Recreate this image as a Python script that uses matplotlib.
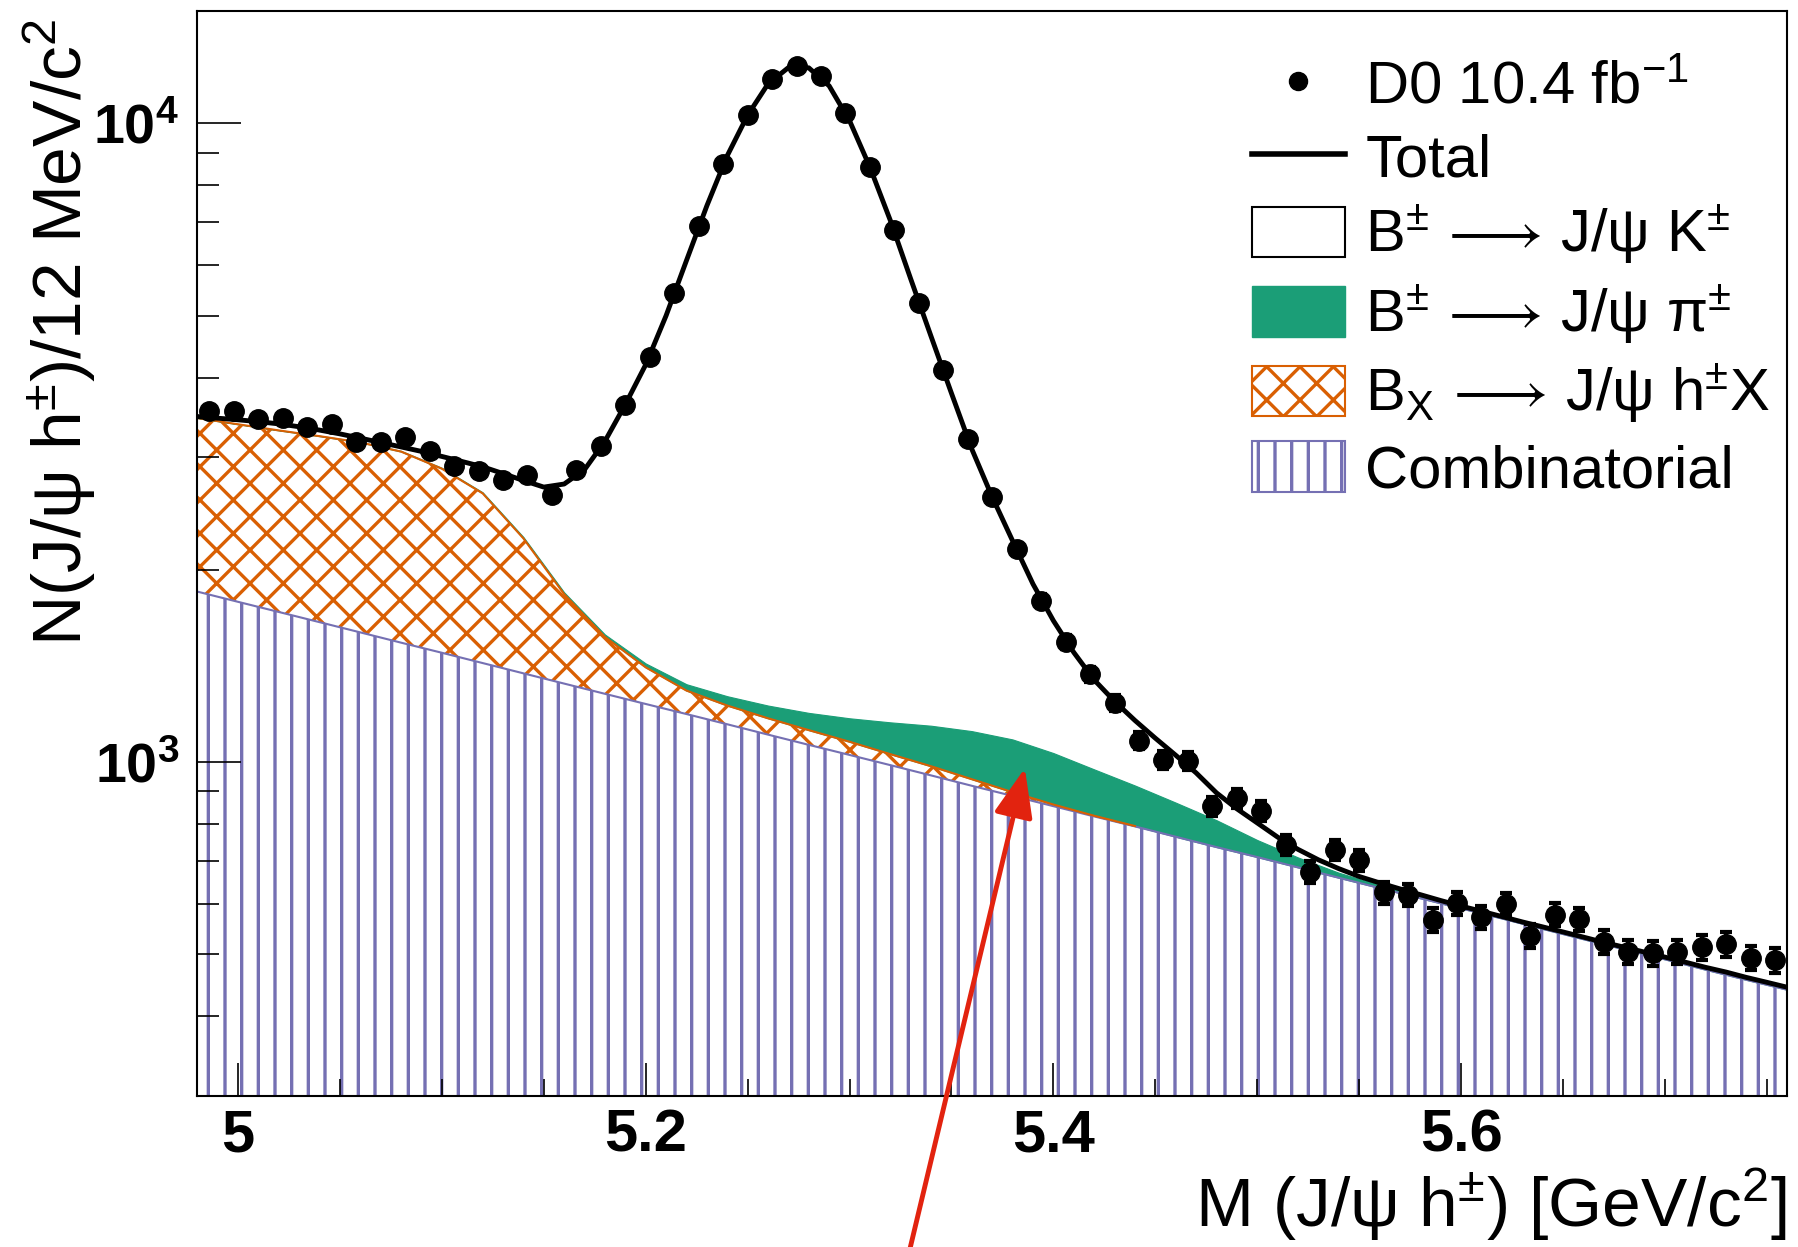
import numpy as np
import matplotlib
matplotlib.use('Agg')
import matplotlib.pyplot as plt
from matplotlib.lines import Line2D
from matplotlib.patches import Patch
from matplotlib.ticker import MultipleLocator, LogLocator, NullFormatter

plt.rcParams['font.family'] = ['Liberation Sans', 'DejaVu Sans']
plt.rcParams['mathtext.fontset'] = 'custom'
plt.rcParams['mathtext.rm'] = 'Liberation Sans'
plt.rcParams['mathtext.it'] = 'Liberation Sans:italic'
plt.rcParams['mathtext.bf'] = 'Liberation Sans:bold'
plt.rcParams['hatch.linewidth'] = 2.4

# data: 12 MeV bins between 4.98 and 5.76 GeV
bin_centers = np.linspace(4.986, 5.754, 65)
counts = [3540, 3540, 3450, 3457, 3342, 3383, 3167, 3167, 3224, 3065,
          2903, 2851, 2767, 2818, 2621, 2869, 3130, 3628, 4310, 5428,
          6921, 8646, 10305, 11753, 12296, 11865, 10368, 8541, 6798, 5236,
          4105, 3200, 2605, 2155, 1788, 1544, 1372, 1239, 1080, 1007,
          1005, 852, 878, 839, 741, 673, 729, 702, 625, 620,
          566, 602, 571, 600, 534, 577, 567, 523, 504, 502,
          504, 513, 518, 494, 490]
errors = [60, 60, 59, 59, 58, 58, 56, 56, 57, 55,
          54, 53, 53, 53, 51, 54, 56, 60, 66, 74,
          83, 93, 102, 108, 111, 109, 102, 92, 82, 72,
          64, 57, 51, 46, 42, 39, 37, 35, 33, 32,
          32, 29, 30, 29, 27, 26, 27, 26, 25, 25,
          24, 25, 24, 24, 23, 24, 24, 23, 22, 22,
          22, 23, 23, 22, 22]

# fit components, every 20 MeV
curve_x = np.linspace(4.98, 5.76, 40)
comb = [1849, 1782, 1718, 1656, 1596, 1538, 1483, 1429, 1377, 1327,
        1279, 1233, 1189, 1146, 1104, 1064, 1026, 989, 953, 918,
        885, 853, 822, 793, 764, 736, 710, 684, 659, 635,
        612, 590, 569, 548, 528, 509, 491, 473, 456, 440]
bx = [1608, 1598, 1588, 1582, 1570, 1525, 1397, 1206, 863, 505,
      291, 174, 105, 80, 67, 58, 50, 40, 32, 22,
      12, 5, 2, 1, 0, 0, 0, 0, 0, 0,
      0, 0, 0, 0, 0, 0, 0, 0, 0, 0]
jpsi_pi = [3, 4, 5, 6, 7, 8, 9, 10, 11, 12,
           14, 20, 30, 42, 55, 72, 95, 125, 155, 178,
           188, 175, 150, 125, 100, 75, 45, 25, 12, 7,
           5, 4, 4, 3, 3, 3, 3, 2, 2, 2]

# total fit, every 10 MeV
total_x = np.linspace(4.98, 5.76, 79)
total = [3476, 3455, 3435, 3412, 3385, 3350, 3310, 3265, 3215, 3165,
         3115, 3065, 3010, 2955, 2900, 2830, 2760, 2695, 2725, 2870,
         3180, 3630, 4190, 5000, 6100, 7430, 8900, 10300, 11530, 12230,
         12220, 11450, 10100, 8540, 7050, 5710, 4640, 3780, 3090, 2600,
         2220, 1900, 1665, 1485, 1345, 1245, 1162, 1090, 1025, 962,
         895, 845, 803, 763, 730, 703, 681, 662, 647, 633,
         620, 607, 595, 584, 573, 562, 552, 542, 532, 522,
         513, 504, 495, 486, 477, 469, 460, 452, 444]

xtick_vals = [5.0, 5.2, 5.4, 5.6]
xtick_labels = ['5', '5.2', '5.4', '5.6']
ytick_vals = [1e3, 1e4]
ytick_labels = [r'$\mathbf{10^{3}}$', r'$\mathbf{10^{4}}$']
legend_labels = [r'D0 10.4 fb$^{-1}$', 'Total',
                 r'B$^{\pm}\,\longrightarrow\,$J/ψ K$^{\pm}$',
                 r'B$^{\pm}\,\longrightarrow\,$J/ψ π$^{\pm}$',
                 r'B$_{\mathrm{X}}\,\longrightarrow\,$J/ψ h$^{\pm}$X',
                 'Combinatorial']
xlabel = r'M (J/ψ h$^{\pm}$) [GeV/c$^{2}$]'
ylabel = r'N(J/ψ h$^{\pm}$)/12 MeV/c$^{2}$'
arrow_tip = (5.386, 978)

GREEN = '#1b9e77'
ORANGE = '#d95f02'
PURPLE = '#7570b3'

fig = plt.figure(figsize=(17.98, 12.47), dpi=100)
ax = fig.add_axes([0.1097, 0.1211, 0.8843, 0.8701])

comb = np.array(comb, dtype=float)
bx = np.array(bx, dtype=float)
lvl1 = comb + bx
lvl2 = lvl1 + np.array(jpsi_pi, dtype=float)

ax.fill_between(curve_x, 1, comb, facecolor='white', edgecolor=PURPLE,
                hatch='|', linewidth=0, zorder=1)
ax.fill_between(curve_x, comb, lvl1, facecolor='white', edgecolor=ORANGE,
                hatch='x', linewidth=0, zorder=1)
ax.fill_between(curve_x, lvl1, lvl2, facecolor=GREEN, edgecolor=GREEN,
                linewidth=0.8, zorder=1)
ax.plot(curve_x, comb, color=PURPLE, lw=1.5, zorder=2)
ax.plot(curve_x, np.ma.masked_where(bx <= 0, lvl1), color=ORANGE, lw=1.5, zorder=2)
ax.plot(total_x, total, color='black', lw=3.5, zorder=3)
ax.errorbar(bin_centers, counts, yerr=errors, fmt='o', color='black', ms=14,
            elinewidth=3, capsize=4, capthick=3, zorder=4)

ax.set_yscale('log')
ax.set_xlim(4.98, 5.76)
ax.set_ylim(300, 15000)

ax.set_xticks(xtick_vals, xtick_labels)
ax.xaxis.set_minor_locator(MultipleLocator(0.05))
ax.set_yticks(ytick_vals, ytick_labels)
ax.yaxis.set_minor_locator(LogLocator(base=10, subs=np.arange(2, 10)))
ax.yaxis.set_minor_formatter(NullFormatter())

ax.tick_params(axis='x', which='major', direction='in', length=24, width=1.2,
               labelsize=43, pad=9)
ax.tick_params(axis='x', which='minor', direction='in', length=12, width=1.2)
ax.tick_params(axis='y', which='major', direction='in', length=32, width=1.2,
               labelsize=40, pad=13)
ax.tick_params(axis='y', which='minor', direction='in', length=16, width=1.2)
for lab in ax.get_xticklabels():
    lab.set_fontweight('bold')
for sp in ax.spines.values():
    sp.set_linewidth(1.5)

handles = [Line2D([], [], marker='o', ls='none', color='black', ms=13),
           Line2D([], [], color='black', lw=4),
           Patch(facecolor='white', edgecolor='black', lw=1.5),
           Patch(facecolor=GREEN, edgecolor=GREEN),
           Patch(facecolor='white', edgecolor=ORANGE, hatch='x', lw=1.5),
           Patch(facecolor='white', edgecolor=PURPLE, hatch='|', lw=1.5)]
ax.legend(handles, legend_labels, loc='upper left', bbox_to_anchor=(0.6963, 0.953),
          bbox_transform=fig.transFigure, frameon=False, fontsize=43,
          handlelength=1.55, handleheight=0.92, handletextpad=0.35,
          labelspacing=0.24, borderpad=0, borderaxespad=0)

fig.text(0.9935, 0.016, xlabel, ha='right', va='baseline', fontsize=50)
fig.text(0.012, 0.985, ylabel, rotation=90, ha='left', va='top', fontsize=50)

ax.annotate('', xy=arrow_tip, xycoords='data', xytext=(0.5055, -0.005),
            textcoords='figure fraction', annotation_clip=False,
            arrowprops=dict(arrowstyle='-|>,head_length=1.5,head_width=0.6',
                            color='#e2230f', lw=3.5, shrinkA=0, shrinkB=0,
                            mutation_scale=20))

fig.savefig('out.png', dpi=100)
